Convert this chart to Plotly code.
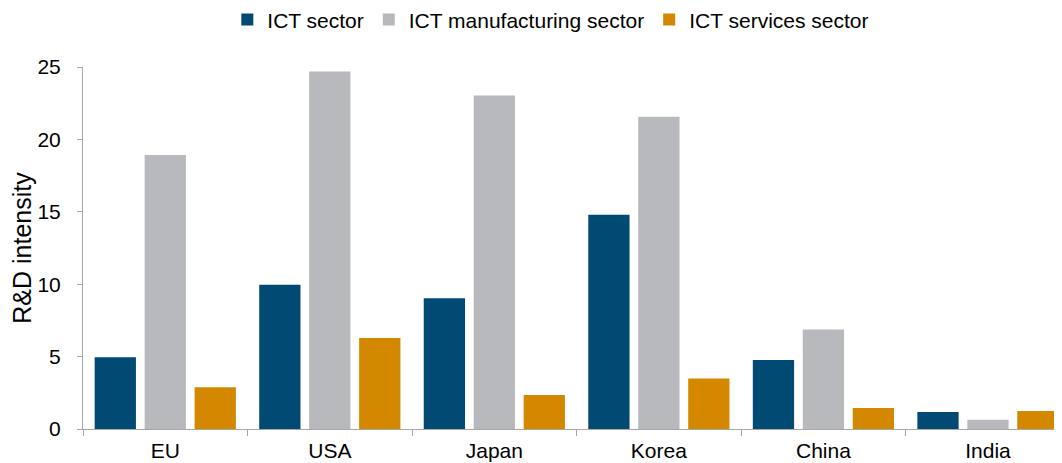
import plotly.graph_objects as go

countries = ['EU', 'USA', 'Japan', 'Korea', 'China', 'India']
ict_sector = [4.95, 9.97, 9.03, 14.79, 4.77, 1.17]
ict_manufacturing = [18.93, 24.69, 23.03, 21.56, 6.88, 0.64]
ict_services = [2.88, 6.29, 2.35, 3.48, 1.45, 1.24]

series = [
    ('ICT sector', ict_sector, '#004A73'),
    ('ICT manufacturing sector', ict_manufacturing, '#B8B9BC'),
    ('ICT services sector', ict_services, '#D48800'),
]

fig = go.Figure()
for name, vals, color in series:
    fig.add_trace(go.Bar(
        x=countries, y=vals, name=name,
        marker=dict(color=color, line=dict(width=0)),
    ))

axis_grey = '#A6A6A6'
# page body has an 8px margin, so the figure is a bit smaller than the window
fig.update_layout(
    width=1054, height=455,
    margin=dict(l=75, r=0, t=59, b=34),
    barmode='group', bargap=0.089, bargroupgap=0.174,
    plot_bgcolor='white', paper_bgcolor='white',
    font=dict(family='Liberation Sans, Arial, sans-serif', size=21, color='#000000'),
    legend=dict(
        orientation='h', x=0.515, xref='container', xanchor='center',
        y=0.974, yref='container', yanchor='middle',
        font=dict(size=21), itemwidth=30, traceorder='normal',
    ),
    xaxis=dict(
        range=[-0.5, 5.45], showline=True, linecolor=axis_grey, linewidth=1,
        ticks='outside', tickson='boundaries', ticklen=6, tickcolor=axis_grey,
        showgrid=False, fixedrange=True, automargin=False, ticklabelstandoff=3,
    ),
    yaxis=dict(
        range=[0, 25], tickvals=[0, 5, 10, 15, 20, 25], showline=True,
        linecolor=axis_grey, linewidth=1, ticks='outside', ticklen=5,
        tickcolor=axis_grey, showgrid=False, zeroline=False, automargin=False,
        ticklabelstandoff=12,
        title=dict(text='R&D intensity', standoff=10),
    ),
)

fig.write_html("out.html")
